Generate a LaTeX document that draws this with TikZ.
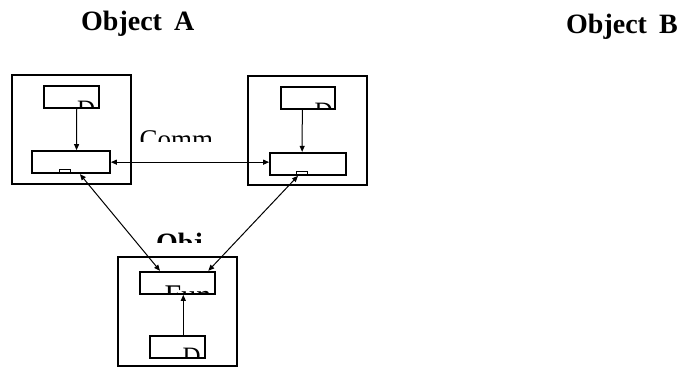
\documentclass[tikz,border=0pt]{standalone}
\usepackage{fontspec}
\setmainfont{Liberation Serif}
\usetikzlibrary{arrows.meta}
\begin{document}
\begin{tikzpicture}[x=1pt,y=-1pt,
  frame/.style={draw=black,line width=2pt},
  inbox/.style={draw=black,line width=1.7pt,inner sep=0pt,minimum height=22.3pt},
  bump/.style={draw=black,line width=0.9pt},
  arr/.style={line width=1pt,-{Triangle[length=6pt,width=5pt]}},
  darr/.style={line width=1pt,{Triangle[length=6pt,width=5pt]}-{Triangle[length=6pt,width=5pt]}},
  ttl/.style={font=\fontsize{28}{30}\selectfont\bfseries,anchor=base west,inner sep=0pt},
  frag/.style={anchor=base west,inner sep=0pt}]
\useasboundingbox[fill=white] (0,0) rectangle (689,367);

% titles
\node[ttl] (tA) at (81,30) {Object\hspace{12pt}A};
\node[ttl] (tB) at (566,33) {Object\hspace{12pt}B};

% object A
\draw[frame] (11.7,75) rectangle (130.7,184);
\node[inbox,minimum width=54.7pt] (topA) at (71.35,97.15) {};
\node[inbox,minimum width=77.7pt] (lowA) at (71.15,162.15) {};
\draw[bump] (59,169.3) rectangle (70,173.3);
\begin{scope}
  \clip (44.8,86.8) rectangle (97.9,107.5);
  \node[frag,font=\fontsize{25}{27}\selectfont] (dA) at (77,117.5) {D};
\end{scope}

% object B
\draw[frame] (248.3,76) rectangle (367.3,185);
\node[inbox,minimum width=54.6pt] (topB) at (308,97.85) {};
\node[inbox,minimum width=75.7pt] (lowB) at (307.85,163.85) {};
\draw[bump] (296.7,171) rectangle (307.3,175);
\begin{scope}
  \clip (281.5,87.5) rectangle (334.5,108.2);
  \node[frag,font=\fontsize{25}{27}\selectfont] (dB) at (314.5,119) {D};
\end{scope}

% object C
\draw[frame] (118.3,256.7) rectangle (237.3,366);
\node[inbox,minimum width=75pt] (funR) at (177.5,282.85) {};
\node[inbox,minimum width=55pt] (botC) at (177.5,347.15) {};
\begin{scope}
  \clip (140.8,272.5) rectangle (214.2,293.2);
  \node[frag,font=\fontsize{30}{32}\selectfont] (fun) at (164.5,305) {Fun};
\end{scope}
\begin{scope}
  \clip (150.8,336.8) rectangle (204.2,357.5);
  \node[frag,font=\fontsize{25}{27}\selectfont] (dC) at (182.5,364.5) {D};
\end{scope}

% partial labels
\begin{scope}
  \clip (130,120) rectangle (230,141.5);
  \node[frag,font=\fontsize{27}{29}\selectfont] (comm) at (139.5,148.5) {Comm};
\end{scope}
\begin{scope}
  \clip (145,220) rectangle (215,242.5);
  \node[frag,font=\fontsize{28}{30}\selectfont\bfseries] (obj) at (156,252.5) {Obj};
\end{scope}

% connectors
\draw[arr] ([xshift=5.4pt]topA.south) -- ([xshift=5.4pt]lowA.north);
\draw[arr] ([xshift=-5.7pt]topB.south) -- ([xshift=-5.7pt]lowB.north);
\draw[arr] ([xshift=5.8pt]botC.north) -- ([xshift=5.8pt]funR.south);
\draw[darr] (lowA.east) -- (lowA.east -| lowB.west);
\draw[darr] ([xshift=8.8pt]lowA.south) -- ([xshift=-17.5pt]funR.north);
\draw[darr] ([xshift=-9.9pt]lowB.south) -- ([xshift=30.8pt]funR.north);
\end{tikzpicture}
\end{document}
